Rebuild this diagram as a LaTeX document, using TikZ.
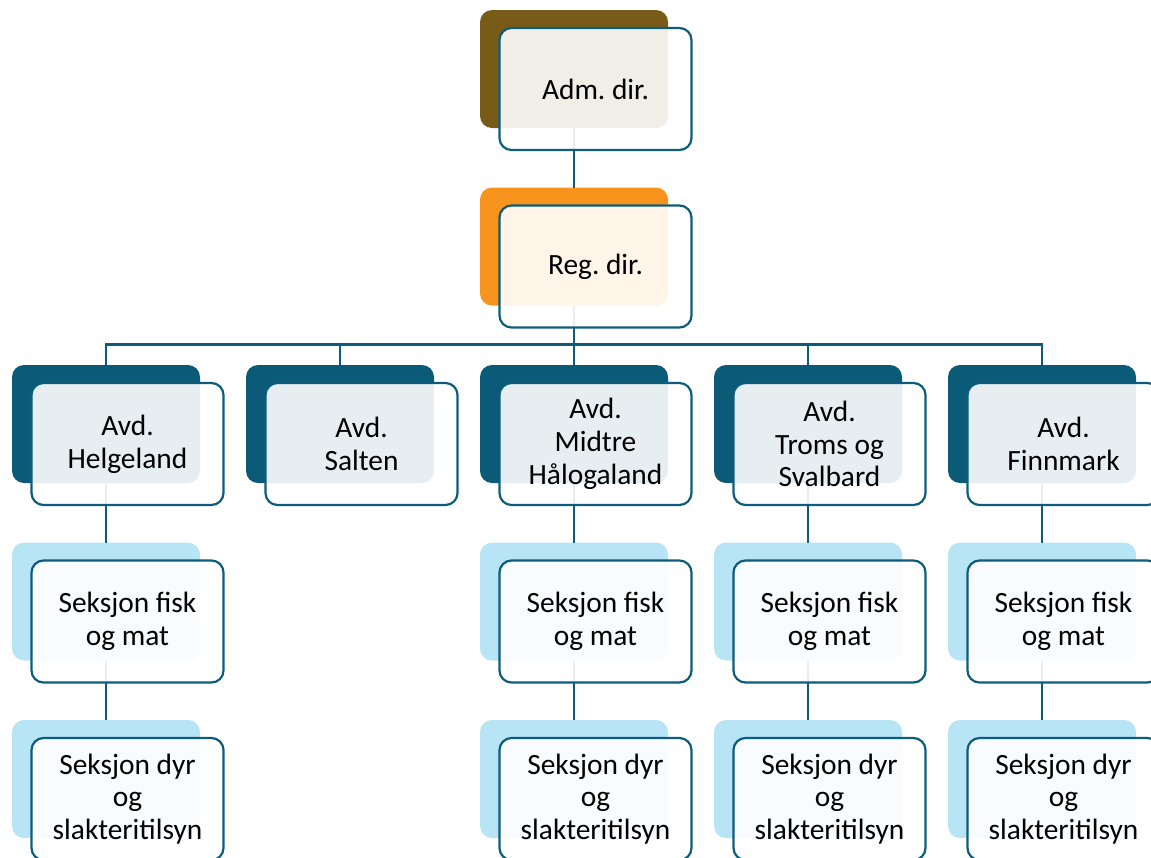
\documentclass[tikz,border=0pt]{standalone}
\usepackage{fontspec}
\setmainfont{Carlito}
\usetikzlibrary{positioning,calc}
\definecolor{orgline}{HTML}{0E5C7C}
\definecolor{admcol}{HTML}{785B17}
\definecolor{regcol}{HTML}{F7941D}
\definecolor{avdcol}{HTML}{0A5A78}
\definecolor{seccol}{HTML}{B8E5F6}

\begin{document}
\begin{tikzpicture}[
  node distance=29.75pt and 23pt,
  back/.style={
    rectangle, rounded corners=6pt, inner sep=0pt, outer sep=0pt,
    minimum width=94pt, minimum height=59pt
  },
  front/.style={
    rectangle, draw=orgline, line width=1.1pt, rounded corners=6pt,
    fill=white, fill opacity=0.9, text opacity=1,
    minimum width=96pt, minimum height=61pt, inner sep=2pt, align=center,
    font=\fontsize{14.7pt}{16.4pt}\selectfont
  },
  conn/.style={draw=orgline, line width=1.1pt},
]
  \useasboundingbox (0,0) rectangle (575.5pt,-428.5pt);

  % back boxes
  \node[back, fill=admcol] (admb) at (287pt,-34.5pt) {};
  \node[back, fill=regcol, below=of admb] (regb) {};
  \node[back, fill=avdcol, below=of regb] (mhlb) {};
  \node[back, fill=avdcol, left=of mhlb] (sltb) {};
  \node[back, fill=avdcol, left=of sltb] (hlgb) {};
  \node[back, fill=avdcol, right=of mhlb] (tsvb) {};
  \node[back, fill=avdcol, right=of tsvb] (fnmb) {};
  \node[back, fill=seccol, below=of hlgb] (hlgfb) {};
  \node[back, fill=seccol, below=of hlgfb] (hlgdb) {};
  \node[back, fill=seccol, below=of mhlb] (mhlfb) {};
  \node[back, fill=seccol, below=of mhlfb] (mhldb) {};
  \node[back, fill=seccol, below=of tsvb] (tsvfb) {};
  \node[back, fill=seccol, below=of tsvfb] (tsvdb) {};
  \node[back, fill=seccol, below=of fnmb] (fnmfb) {};
  \node[back, fill=seccol, below=of fnmfb] (fnmdb) {};

  % connectors
  \coordinate (bus) at ($(regb.south)+(0,-19.5pt)$);
  \draw[conn] (admb) -- (regb);
  \draw[conn] (regb) -- (bus) -| (hlgb);
  \draw[conn] (bus) -| (sltb);
  \draw[conn] (bus) -- (mhlb);
  \draw[conn] (bus) -| (tsvb);
  \draw[conn] (bus) -| (fnmb);
  \draw[conn] (hlgb) -- (hlgfb) -- (hlgdb);
  \draw[conn] (mhlb) -- (mhlfb) -- (mhldb);
  \draw[conn] (tsvb) -- (tsvfb) -- (tsvdb);
  \draw[conn] (fnmb) -- (fnmfb) -- (fnmdb);

  % front boxes
  \node[front] (adm) at ([shift={(10.75pt,-10pt)}]admb.center) {Adm.\ dir.};
  \node[front] (reg) at ([shift={(10.75pt,-10pt)}]regb.center) {Reg.\ dir.};
  \node[front] (hlg) at ([shift={(10.75pt,-10pt)}]hlgb.center) {Avd.\\Helgeland};
  \node[front] (slt) at ([shift={(10.75pt,-10pt)}]sltb.center) {Avd.\\Salten};
  \node[front] (mhl) at ([shift={(10.75pt,-10pt)}]mhlb.center) {Avd.\\Midtre\\Hålogaland};
  \node[front] (tsv) at ([shift={(10.75pt,-10pt)}]tsvb.center) {Avd.\\Troms og\\Svalbard};
  \node[front] (fnm) at ([shift={(10.75pt,-10pt)}]fnmb.center) {Avd.\\Finnmark};
  \node[front] (hlgf) at ([shift={(10.75pt,-10pt)}]hlgfb.center) {Seksjon fisk\\og mat};
  \node[front] (hlgd) at ([shift={(10.75pt,-10pt)}]hlgdb.center) {Seksjon dyr\\og\\slakteritilsyn};
  \node[front] (mhlf) at ([shift={(10.75pt,-10pt)}]mhlfb.center) {Seksjon fisk\\og mat};
  \node[front] (mhld) at ([shift={(10.75pt,-10pt)}]mhldb.center) {Seksjon dyr\\og\\slakteritilsyn};
  \node[front] (tsvf) at ([shift={(10.75pt,-10pt)}]tsvfb.center) {Seksjon fisk\\og mat};
  \node[front] (tsvd) at ([shift={(10.75pt,-10pt)}]tsvdb.center) {Seksjon dyr\\og\\slakteritilsyn};
  \node[front] (fnmf) at ([shift={(10.75pt,-10pt)}]fnmfb.center) {Seksjon fisk\\og mat};
  \node[front] (fnmd) at ([shift={(10.75pt,-10pt)}]fnmdb.center) {Seksjon dyr\\og\\slakteritilsyn};
\end{tikzpicture}
\end{document}
